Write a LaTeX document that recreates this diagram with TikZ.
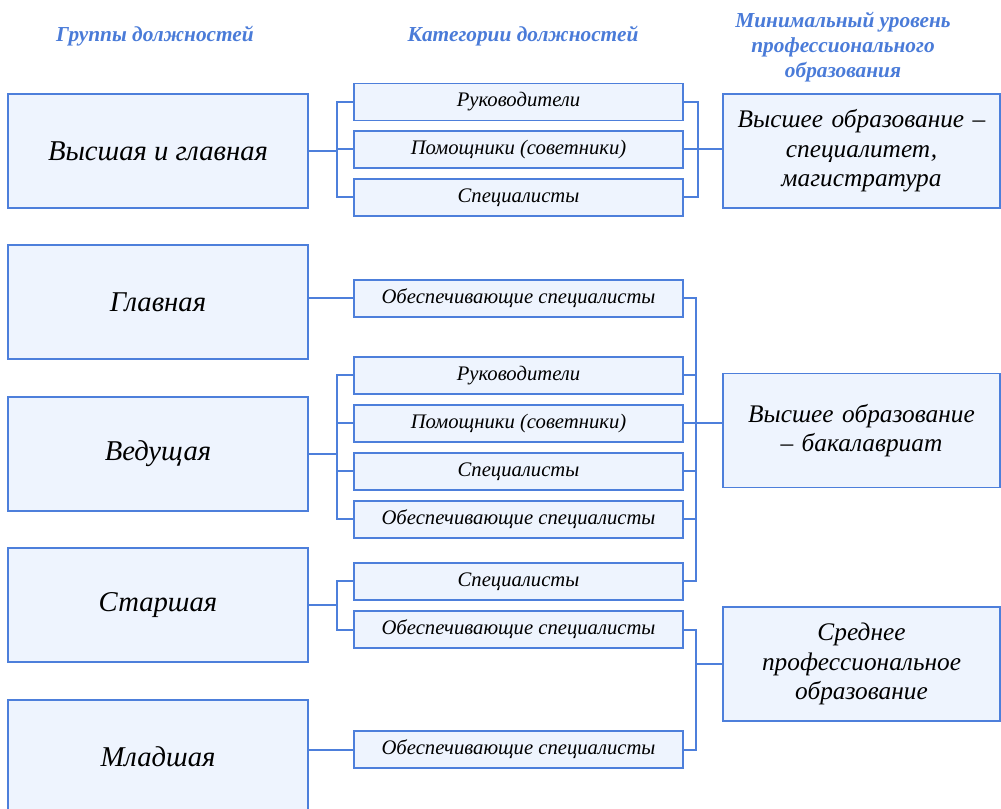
\documentclass[tikz,border=0pt]{standalone}
\usepackage{fontspec}
\setmainfont{Liberation Serif}
\definecolor{lineblue}{HTML}{4D7FDB}
\definecolor{boxfill}{HTML}{EEF4FE}
\definecolor{headblue}{HTML}{4A7BD8}
\begin{document}
\begin{tikzpicture}[x=0.75pt,y=-0.75pt,
  box/.style={draw=lineblue,fill=boxfill,line width=1.2pt,inner sep=2pt,outer sep=0pt,align=center,font=\itshape\fontsize{21.5}{25}\selectfont},
  grp/.style={box,minimum width=225pt,minimum height=85.5pt},
  cat/.style={box,minimum width=246.75pt,minimum height=27.75pt,font=\itshape\fontsize{15.5}{18}\selectfont},
  lvl/.style={box,minimum width=207.75pt,minimum height=85.5pt,text width=200pt,font=\itshape\fontsize{19}{22}\selectfont},
  head/.style={text=headblue,align=center,font=\bfseries\itshape\fontsize{16}{19}\selectfont},
  conn/.style={draw=lineblue,line width=1.5pt}]
\useasboundingbox (0,0) rectangle (1001,809);
\clip (0,0) rectangle (1001,809);
% headers
\node[head] (h1) at (155,36) {Группы должностей};
\node[head] (h2) at (523,36) {Категории должностей};
\node[head] (h3) at (843,47) {Минимальный уровень\\профессионального\\образования};
% group boxes
\node[grp] (L1) at (158,151) {Высшая и главная};
\node[grp] (L2) at (158,302) {Главная};
\node[grp] (L3) at (158,454) {Ведущая};
\node[grp] (L4) at (158,605) {Старшая};
\node[grp] (L5) at (158,757) {Младшая};
% category boxes
\node[cat] (M1a) at (518.5,102) {Руководители};
\node[cat] (M1b) at (518.5,149.5) {Помощники (советники)};
\node[cat] (M1c) at (518.5,197.5) {Специалисты};
\node[cat] (M2) at (518.5,298.5) {Обеспечивающие специалисты};
\node[cat] (M3a) at (518.5,375.5) {Руководители};
\node[cat] (M3b) at (518.5,423.5) {Помощники (советники)};
\node[cat] (M3c) at (518.5,471.5) {Специалисты};
\node[cat] (M3d) at (518.5,519.5) {Обеспечивающие специалисты};
\node[cat] (M4a) at (518.5,581.5) {Специалисты};
\node[cat] (M4b) at (518.5,629.5) {Обеспечивающие специалисты};
\node[cat] (M5) at (518.5,749.5) {Обеспечивающие специалисты};
% level boxes
\node[lvl] (R1) at (861.5,151) {Высшее образование –\\специалитет,\\магистратура};
\node[lvl] (R2) at (861.5,430.5) {Высшее образование\\– бакалавриат};
\node[lvl] (R3) at (861.5,664) {Среднее\\профессиональное\\образование};
% bracket columns
\coordinate (xl) at (337,0);
\coordinate (xr) at (696,0);
\coordinate (xr1) at (698,0);
% group 1
\draw[conn] (L1.east) -- (L1.east -| xl);
\draw[conn] (M1a.west) -| (M1c.west -| xl) -- (M1c.west);
\draw[conn] (M1b.west) -- (M1b.west -| xl);
\draw[conn] (M1a.east) -| (M1c.east -| xr1) -- (M1c.east);
\draw[conn] (M1b.east) -- (M1b.east -| R1.west);
% group 2
\draw[conn] (L2.east |- M2.west) -- (M2.west);
% group 3
\draw[conn] (L3.east) -- (L3.east -| xl);
\draw[conn] (M3a.west) -| (M3d.west -| xl) -- (M3d.west);
\draw[conn] (M3b.west) -- (M3b.west -| xl);
\draw[conn] (M3c.west) -- (M3c.west -| xl);
% group 4
\draw[conn] (L4.east) -- (L4.east -| xl);
\draw[conn] (M4a.west) -| (M4b.west -| xl) -- (M4b.west);
% group 5
\draw[conn] (L5.east |- M5.west) -- (M5.west);
% right bracket: bachelor
\draw[conn] (M2.east) -| (M4a.east -| xr) -- (M4a.east);
\draw[conn] (M3a.east) -- (M3a.east -| xr);
\draw[conn] (M3c.east) -- (M3c.east -| xr);
\draw[conn] (M3d.east) -- (M3d.east -| xr);
\draw[conn] (M3b.east) -- (M3b.east -| R2.west);
% right bracket: secondary vocational
\draw[conn] (M4b.east) -| (M5.east -| xr) -- (M5.east);
\draw[conn] (R3.west -| xr) -- (R3.west);
\end{tikzpicture}
\end{document}
